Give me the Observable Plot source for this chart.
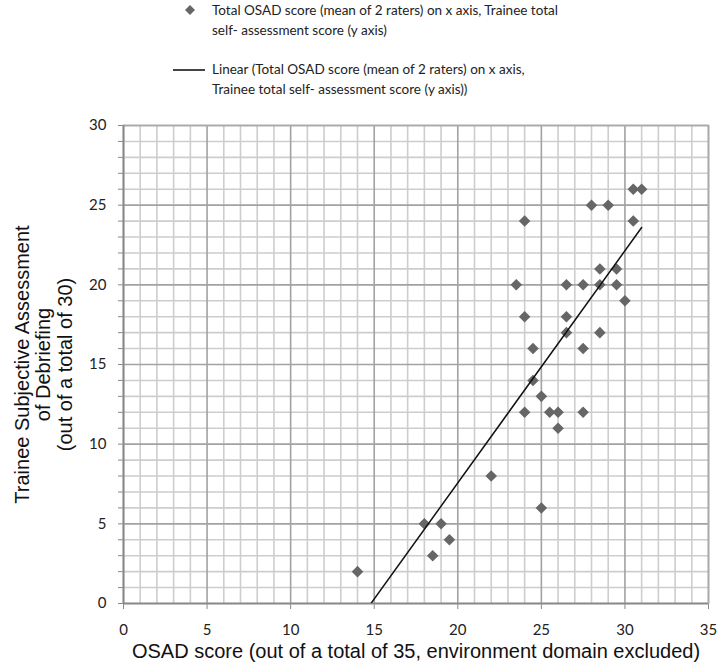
<!DOCTYPE html>
<html>
<head>
<meta charset="utf-8">
<script src="https://cdn.jsdelivr.net/npm/d3@7"></script>
<script src="https://cdn.jsdelivr.net/npm/@observablehq/plot@0.6"></script>
<style>
  html, body { margin: 0; padding: 0; background: #fff; }
  #wrap { width: 720px; height: 671px; position: relative; overflow: hidden; }
  #legend { position: relative; width: 720px; height: 105px; display: block; }
  #chart svg g[aria-label*="axis"] line,
  #chart svg g[aria-label*="axis"] path { stroke: #888; }
</style>
</head>
<body>
<div id="wrap">
  <svg id="legend" width="720" height="105"></svg>
  <div id="chart"></div>
</div>
<script>
// ---- data ----
const osadScore = [30.5, 31, 28, 29, 24, 30.5, 28.5, 29.5, 23.5, 26.5, 27.5, 28.5, 29.5, 30,
                   24, 26.5, 26.5, 28.5, 24.5, 27.5, 24.5, 25, 24, 25.5, 26, 27.5, 26,
                   22, 25, 18, 19, 19.5, 18.5, 14];
const selfScore = [26, 26, 25, 25, 24, 24, 21, 21, 20, 20, 20, 20, 20, 19,
                   18, 18, 17, 17, 16, 16, 14, 13, 12, 12, 12, 12, 11,
                   8, 6, 5, 5, 4, 3, 2];
const xTicks = [0, 5, 10, 15, 20, 25, 30, 35];
const yTicks = [0, 5, 10, 15, 20, 25, 30];
const xTitle = "OSAD score (out of a total of 35, environment domain excluded)";
const yTitle = "Trainee Subjective Assessment\nof Debriefing\n(out of a total of 30)";
const legendLabels = [
  ["Total OSAD score (mean of 2 raters) on x axis, Trainee total", "self- assessment score (y axis)"],
  ["Linear (Total OSAD score (mean of 2 raters) on x axis,", "Trainee total self- assessment score (y axis))"]
];

const data = osadScore.map((x, i) => ({x, y: selfScore[i]}));
const xMinor = d3.range(xTicks[0], xTicks[xTicks.length - 1] + 1, 1);
const yMinor = d3.range(yTicks[0], yTicks[yTicks.length - 1] + 1, 1);

// ---- legend ----
const lg = d3.select("#legend");
const lf = "Lato, 'Open Sans', sans-serif";
lg.append("path").attr("d", "M190,5 L195,10 L190,15 L185,10 Z").attr("fill", "#666");
lg.append("line").attr("x1", 173).attr("x2", 205).attr("y1", 70).attr("y2", 70)
  .attr("stroke", "#444").attr("stroke-width", 2);
const lineY = [[12, 32], [71, 91]];
legendLabels.forEach((pair, i) => pair.forEach((t, j) => {
  lg.append("text").attr("x", 212).attr("y", lineY[i][j]).attr("dominant-baseline", "middle")
    .attr("font-family", lf).attr("font-size", 13.5).attr("fill", "#222").text(t);
}));

// ---- chart ----
const chart = Plot.plot({
  width: 720,
  height: 566,
  marginLeft: 123,
  marginRight: 12,
  marginTop: 20,
  marginBottom: 68,
  style: {fontFamily: "Lato, 'Open Sans', sans-serif", fontSize: "15px", color: "#222", background: "white"},
  x: {domain: [0, 35], ticks: xTicks, tickSize: 6, tickPadding: 15, label: null},
  y: {domain: [0, 30], ticks: yMinor, tickFormat: d => yTicks.includes(d) ? String(d) : "",
      tickSize: 5, tickPadding: 12, label: null},
  marks: [
    Plot.ruleX(xMinor.filter(d => !xTicks.includes(d)), {stroke: "#cdcdcd", strokeWidth: 1.6}),
    Plot.ruleY(yMinor.filter(d => !yTicks.includes(d)), {stroke: "#cdcdcd", strokeWidth: 1.6}),
    Plot.ruleX(xTicks, {stroke: "#a2a2a2", strokeWidth: 1.6}),
    Plot.ruleY(yTicks, {stroke: "#a2a2a2", strokeWidth: 1.6}),
    Plot.frame({stroke: "#aaaaaa", strokeWidth: 1.6}),
    Plot.ruleX([0], {stroke: "#888", strokeWidth: 1.6}),
    Plot.ruleY([0], {stroke: "#888", strokeWidth: 1.6}),
    Plot.dot(data, {x: "x", y: "y", symbol: "diamond2", r: 5.2, fill: "#666", stroke: "none"}),
    Plot.linearRegressionY(data, {x: "x", y: "y", stroke: "#111", strokeWidth: 1.5, ci: 0, clip: true}),
    Plot.text([xTitle], {frameAnchor: "bottom", dy: 54, fontSize: 20,
      fontFamily: "'Liberation Sans', Arial, sans-serif", fill: "#111"}),
    Plot.text([yTitle], {frameAnchor: "left", dx: -80, rotate: -90, fontSize: 20, lineHeight: 1.08,
      textAnchor: "middle", lineAnchor: "middle",
      fontFamily: "'Liberation Sans', Arial, sans-serif", fill: "#111"})
  ]
});
document.getElementById("chart").appendChild(chart);
</script>
</body>
</html>
